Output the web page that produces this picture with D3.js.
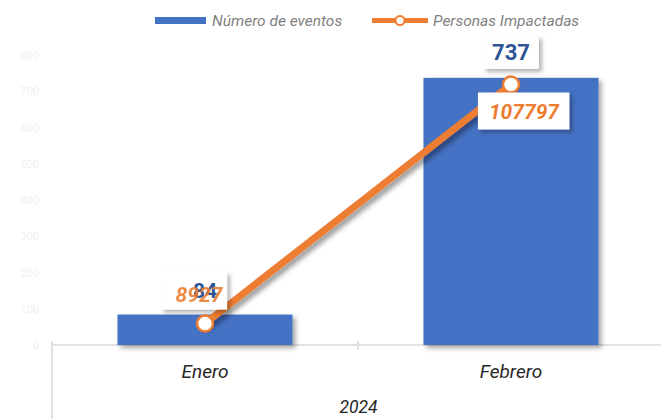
<!DOCTYPE html>
<html>
<head>
<meta charset="utf-8">
<script src="https://cdn.jsdelivr.net/npm/d3@7"></script>
<style>
  html, body { margin: 0; padding: 0; background: #fff; }
  svg { display: block; font-family: Roboto, "Open Sans", sans-serif; }
</style>
</head>
<body>
<div id="chart"></div>
<script>
/* data */
const months   = ['Enero', 'Febrero'];
const year     = '2024';
const eventos  = [84, 737];
const personas = [8927, 107797];
const yTicks   = [0, 100, 200, 300, 400, 500, 600, 700, 800];

const W = 661, H = 419;
const m = { t: 55, r: -3, b: 74, l: 52 };
const BLUE = '#4472c4', ORANGE = '#ed7d31';

const svg = d3.select('#chart').append('svg')
  .attr('width', W).attr('height', H);

/* shadows */
const defs = svg.append('defs');
function shadow(id, dx, dy, sd, op) {
  defs.append('filter').attr('id', id)
    .attr('x', '-20%').attr('y', '-20%').attr('width', '150%').attr('height', '150%')
    .append('feDropShadow')
    .attr('dx', dx).attr('dy', dy).attr('stdDeviation', sd)
    .attr('flood-color', '#000').attr('flood-opacity', op);
}
shadow('sh-bar', 3, 3, 2.5, 0.35);
shadow('sh-line', 3, 4, 2.5, 0.4);
shadow('sh-box', 3, 3, 2, 0.3);

const x = d3.scaleBand().domain(months).range([m.l, W - m.r]).padding(0);
const y = d3.scaleLinear().domain([0, 800]).range([H - m.b, m.t]);
const y2 = d3.scaleLinear().domain([0, 120000]).range([H - m.b, m.t]);
const barW = x.bandwidth() * 0.572;
const cx = d => x(d) + x.bandwidth() / 2;

/* y axis labels (very faint) */
svg.append('g').selectAll('text').data(yTicks).join('text')
  .attr('x', 39).attr('y', d => y(d) + 4)
  .attr('text-anchor', 'end').attr('font-size', 11)
  .attr('fill', '#f0f0f0').text(d => d);

/* category axis */
const axisY = y(0);
svg.append('line').attr('x1', m.l).attr('x2', W).attr('y1', axisY).attr('y2', axisY)
  .attr('stroke', '#d9d9d9').attr('stroke-width', 1.5);
svg.append('line').attr('x1', m.l).attr('x2', m.l).attr('y1', axisY - 4).attr('y2', H)
  .attr('stroke', '#d9d9d9').attr('stroke-width', 1.5);
svg.append('line').attr('x1', x('Febrero')).attr('x2', x('Febrero'))
  .attr('y1', axisY - 4).attr('y2', axisY + 5)
  .attr('stroke', '#d9d9d9').attr('stroke-width', 1.5);

svg.append('g').selectAll('text').data(months).join('text')
  .attr('x', d => cx(d)).attr('y', axisY + 33)
  .attr('text-anchor', 'middle').attr('font-size', 19).attr('font-style', 'italic')
  .attr('fill', '#262626').text(d => d);
svg.append('text')
  .attr('x', m.l + (W - m.l) / 2 + 2).attr('y', axisY + 68)
  .attr('text-anchor', 'middle').attr('font-size', 17.5).attr('font-style', 'italic')
  .attr('fill', '#262626').text(year);

/* bars */
svg.append('g').selectAll('rect').data(months).join('rect')
  .attr('x', d => cx(d) - barW / 2).attr('width', barW)
  .attr('y', (d, i) => y(eventos[i])).attr('height', (d, i) => axisY - y(eventos[i]))
  .attr('fill', BLUE).attr('filter', 'url(#sh-bar)');

/* line */
const pts = months.map((d, i) => [cx(d), y2(personas[i])]);
svg.append('path').datum(pts)
  .attr('d', d3.line())
  .attr('fill', 'none').attr('stroke', ORANGE).attr('stroke-width', 7)
  .attr('stroke-linecap', 'round').attr('filter', 'url(#sh-line)');

/* labels with white boxes */
function boxLabel(txt, cxp, top, h, color, italic, size, padL, padR, dy) {
  const g = svg.append('g');
  const rect = g.append('rect').attr('fill', '#fff').attr('filter', 'url(#sh-box)');
  const t = g.append('text')
    .attr('x', cxp).attr('y', top + h / 2 + size * 0.36 + (dy || 0))
    .attr('text-anchor', 'middle').attr('font-size', size).attr('font-weight', 'bold')
    .attr('font-style', italic ? 'italic' : 'normal')
    .attr('fill', color).text(txt);
  const bb = t.node().getBBox();
  rect.attr('x', bb.x - padL).attr('width', bb.width + padL + padR)
    .attr('y', top).attr('height', h);
  return g;
}

/* bar labels */
boxLabel(eventos[1], cx('Febrero'), y(eventos[1]) - 42, 33, '#2f5597', false, 22, 9, 9);
boxLabel(eventos[0], cx('Enero'), y(eventos[0]) - 43, 38, '#2f5597', false, 21, 32, 10, 0);

/* markers */
svg.append('g').selectAll('circle').data(pts).join('circle')
  .attr('cx', d => d[0]).attr('cy', d => d[1]).attr('r', 8)
  .attr('fill', '#fff').attr('stroke', ORANGE).attr('stroke-width', 2.5);

/* line labels */
boxLabel(personas[1], pts[1][0] + 13, pts[1][1] + 8, 37, ORANGE, true, 21, 11, 9);
svg.append('text')
  .attr('x', pts[0][0] - 6).attr('y', pts[0][1] - 21)
  .attr('text-anchor', 'middle').attr('font-size', 21).attr('font-weight', 'bold')
  .attr('font-style', 'italic').attr('fill', ORANGE).attr('opacity', 0.9)
  .text(personas[0]);

/* legend */
const leg = svg.append('g');
leg.append('rect').attr('x', 155).attr('y', 17).attr('width', 51).attr('height', 7).attr('fill', BLUE);
leg.append('text').attr('x', 212).attr('y', 25.5).attr('font-size', 15.5)
  .attr('font-style', 'italic').attr('fill', '#7f7f7f').text('Número de eventos');
leg.append('line').attr('x1', 372).attr('x2', 428).attr('y1', 20.5).attr('y2', 20.5)
  .attr('stroke', ORANGE).attr('stroke-width', 5);
leg.append('circle').attr('cx', 400).attr('cy', 20.5).attr('r', 4.5)
  .attr('fill', '#fff').attr('stroke', ORANGE).attr('stroke-width', 2);
leg.append('text').attr('x', 433).attr('y', 25.5).attr('font-size', 15.5)
  .attr('font-style', 'italic').attr('fill', '#7f7f7f').text('Personas Impactadas');
</script>
</body>
</html>
